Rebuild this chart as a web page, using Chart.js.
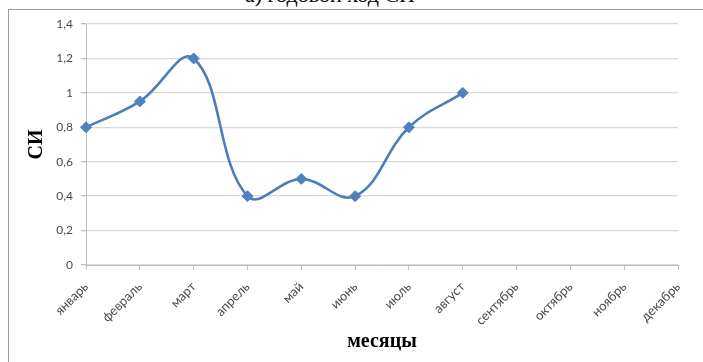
<!DOCTYPE html>
<html lang="ru">
<head>
<meta charset="utf-8">
<script src="https://cdn.jsdelivr.net/npm/chart.js@4/dist/chart.umd.min.js"></script>
<style>
  html, body { margin: 0; padding: 0; background: #fff; overflow: hidden; }
  #wrap { position: relative; width: 703px; height: 362px; overflow: hidden; }
  #frame { position: absolute; left: 8px; top: 9px; width: 800px; height: 500px;
           border: 1px solid #9a9a9a; box-sizing: border-box; }
  #heading { position: absolute; left: 0; width: 660px; top: -16px; text-align: center;
             font: 22px/22px "Liberation Serif", "Times New Roman", serif; color: #000; }
  #c { position: absolute; left: 0; top: 0; }
</style>
</head>
<body>
<div id="wrap">
  <div id="frame"></div>
  <div id="heading">а) годовой ход СИ</div>
  <canvas id="c" width="703" height="362"></canvas>
</div>
<script>
// Месяцы года (ось X)
const months = ['январь', 'февраль', 'март', 'апрель', 'май', 'июнь',
                'июль', 'август', 'сентябрь', 'октябрь', 'ноябрь', 'декабрь'];
// Значения СИ по месяцам (данные есть только по август)
const siValues = [0.8, 0.95, 1.2, 0.4, 0.5, 0.4, 0.8, 1.0, null, null, null, null];
// Деления оси Y
const yTicks = [0, 0.2, 0.4, 0.6, 0.8, 1, 1.2, 1.4];

const lineBlue = '#4A7EBB';
const tickColor = '#4a4a4a';
const tickFontY = { family: 'Lato, "Liberation Sans", sans-serif', size: 12 };
const tickFontX = { family: 'Lato, "Liberation Sans", sans-serif', size: 13 };
const titleFont = { family: '"Liberation Serif", "Times New Roman", serif', size: 20, weight: 'bold' };

new Chart(document.getElementById('c'), {
  type: 'line',
  data: {
    labels: months,
    datasets: [{
      data: siValues,
      borderColor: lineBlue,
      borderWidth: 2.6,
      tension: 0.4,
      pointStyle: 'rectRot',
      pointRadius: 5.5,
      pointBackgroundColor: '#4F81BD',
      pointBorderColor: '#4F81BD',
      pointBorderWidth: 1,
      spanGaps: false
    }]
  },
  options: {
    responsive: false,
    animation: false,
    layout: { padding: { left: 10, top: 24, right: 25, bottom: 0 } },
    plugins: { legend: { display: false }, tooltip: { enabled: false } },
    scales: {
      x: {
        offset: false,
        afterFit: (s) => { s.height = 97; },
        grid: { drawOnChartArea: false, drawTicks: true, tickLength: 5, color: '#bfbfbf' },
        border: { color: '#bfbfbf' },
        ticks: { color: tickColor, font: tickFontX, minRotation: 45, maxRotation: 45, autoSkip: false, padding: 9 },
        title: { display: true, text: 'месяцы', color: '#000', font: titleFont, padding: { top: 0, bottom: 8 } }
      },
      y: {
        min: 0, max: 1.4,
        afterFit: (s) => { s.width = 76; },
        afterBuildTicks: (s) => { s.ticks = yTicks.map(v => ({ value: v })); },
        grid: { color: '#d9d9d9', lineWidth: 1.3, tickLength: 5, tickColor: '#bfbfbf' },
        border: { color: '#bfbfbf' },
        ticks: {
          color: tickColor, font: tickFontY, padding: 8,
          callback: (v) => String(v).replace('.', ',')
        },
        title: { display: true, text: 'СИ', color: '#000', font: titleFont, padding: { top: 15, bottom: 0 } }
      }
    }
  }
});
</script>
</body>
</html>
